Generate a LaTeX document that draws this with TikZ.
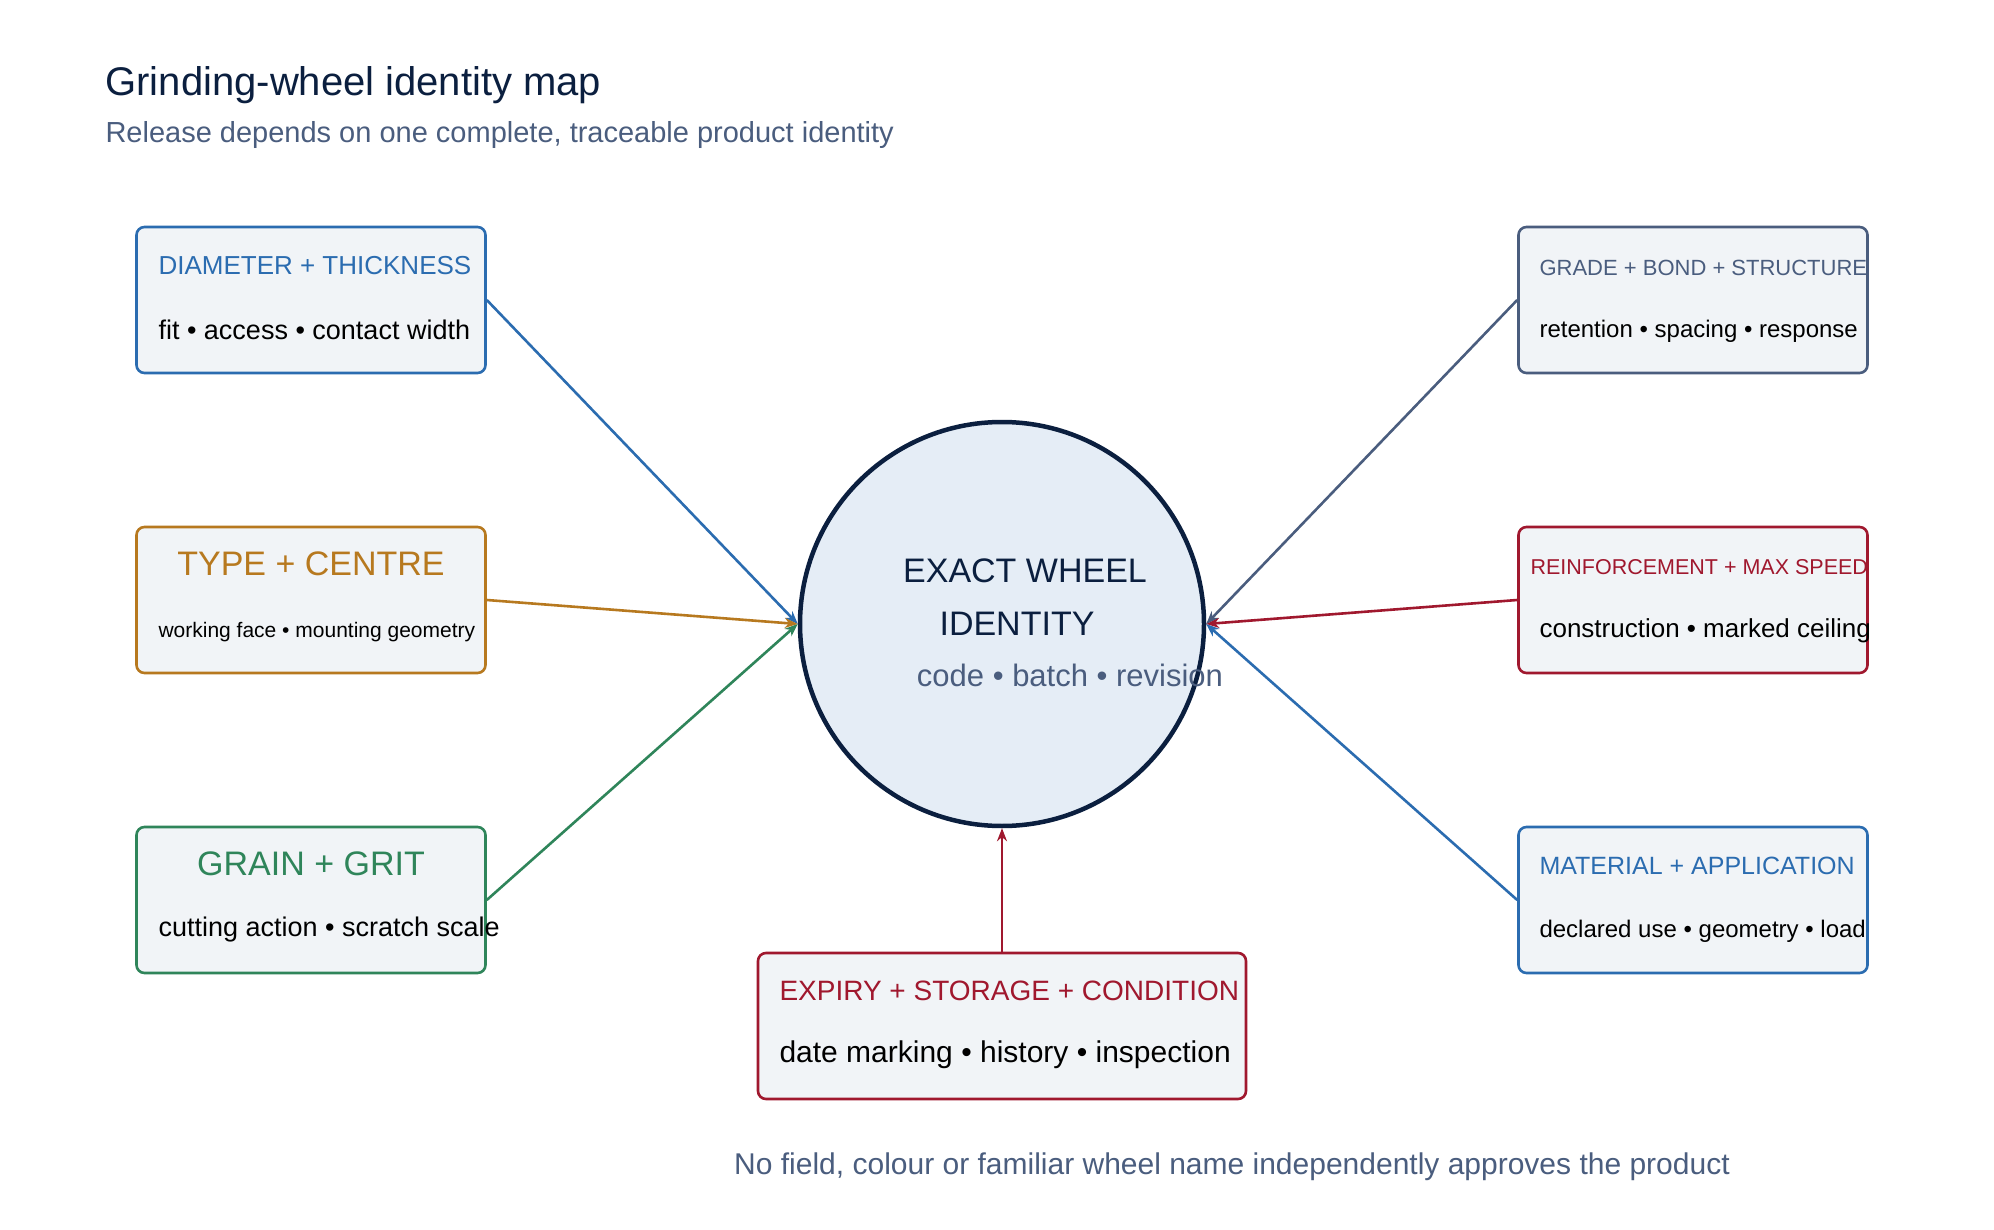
\documentclass[tikz,border=0pt]{standalone}
\usepackage{fontspec}
\setmainfont{Liberation Sans}
\usetikzlibrary{arrows.meta}
\definecolor{cblue}{HTML}{2B6CB0}
\definecolor{corange}{HTML}{B7791F}
\definecolor{cgreen}{HTML}{2F855A}
\definecolor{cslate}{HTML}{4A5D7E}
\definecolor{cred}{HTML}{A0182E}
\definecolor{cnavy}{HTML}{0B1F3F}
\definecolor{boxfill}{HTML}{F1F4F7}
\definecolor{circfill}{HTML}{E5EDF6}
\newcommand{\fs}[1]{\fontsize{#1pt}{#1pt}\selectfont}
\begin{document}
\begin{tikzpicture}[x=1pt,y=-1pt,
  box/.style={draw=#1,line width=2.6pt,rounded corners=8pt,fill=boxfill,minimum width=349pt,minimum height=146pt,inner sep=0pt},
  hd/.style={anchor=west,text=#1},
  bd/.style={anchor=west,text=black},
  conn/.style={draw=#1,line width=2.6pt,-{Stealth[length=13pt,width=10pt]}}]
\useasboundingbox (0,0) rectangle (1994,1230);
\fill[white] (0,0) rectangle (1994,1230);
\node[anchor=base west,text=cnavy,font=\fs{40}] (title) at (102,96) {Grinding-wheel identity map};
\node[anchor=base west,text=cslate,font=\fs{29}] (sub) at (102,143) {Release depends on one complete, traceable product identity};
% circle
\node[circle,draw=cnavy,line width=4.5pt,fill=circfill,minimum size=404pt,inner sep=0pt] (c) at (1002,624) {};
\node[text=cnavy,font=\fs{34}] (c1) at (1025,571) {EXACT WHEEL};
\node[text=cnavy,font=\fs{34}] (c2) at (1017,624) {IDENTITY};
\node[text=cslate,font=\fs{31}] (c3) at (1070,675) {code • batch • revision};
% left boxes
\node[box=cblue] (b1) at (311,300) {};
\node[hd=cblue,font=\fs{26}] at (155,266) {DIAMETER + THICKNESS};
\node[bd,font=\fs{27}] at (155,330) {fit • access • contact width};
\node[box=corange] (b2) at (311,600) {};
\node[text=corange,font=\fs{34}] at (311,564) {TYPE + CENTRE};
\node[bd,font=\fs{21}] at (155,632) {working face • mounting geometry};
\node[box=cgreen] (b3) at (311,900) {};
\node[text=cgreen,font=\fs{34}] at (311,864) {GRAIN + GRIT};
\node[bd,font=\fs{27}] at (155,930) {cutting action • scratch scale};
% right boxes
\node[box=cslate] (b4) at (1693,300) {};
\node[hd=cslate,font=\fs{22}] at (1536,268) {GRADE + BOND + STRUCTURE};
\node[bd,font=\fs{24}] at (1536,331) {retention • spacing • response};
\node[box=cred] (b5) at (1693,600) {};
\node[hd=cred,font=\fs{21.5}] at (1527,567) {REINFORCEMENT + MAX SPEED};
\node[bd,font=\fs{26}] at (1536,631) {construction • marked ceiling};
\node[box=cblue] (b6) at (1693,900) {};
\node[hd=cblue,font=\fs{25}] at (1536,866) {MATERIAL + APPLICATION};
\node[bd,font=\fs{24}] at (1536,931) {declared use • geometry • load};
% bottom box
\node[box=cred,minimum width=488pt] (b7) at (1002,1026) {};
\node[hd=cred,font=\fs{28}] at (776,991) {EXPIRY + STORAGE + CONDITION};
\node[bd,font=\fs{30}] at (776,1055) {date marking • history • inspection};
% connectors
\draw[conn=cblue] (b1.east) -- (c.west);
\draw[conn=corange] (b2.east) -- (c.west);
\draw[conn=cgreen] (b3.east) -- (c.west);
\draw[conn=cslate] (b4.west) -- (c.east);
\draw[conn=cred] (b5.west) -- (c.east);
\draw[conn=cblue] (b6.west) -- (c.east);
\draw[conn=cred] (b7.north) -- (c.south);
\node[text=cslate,font=\fs{30}] (foot) at (1232,1167) {No field, colour or familiar wheel name independently approves the product};
\end{tikzpicture}
\end{document}
